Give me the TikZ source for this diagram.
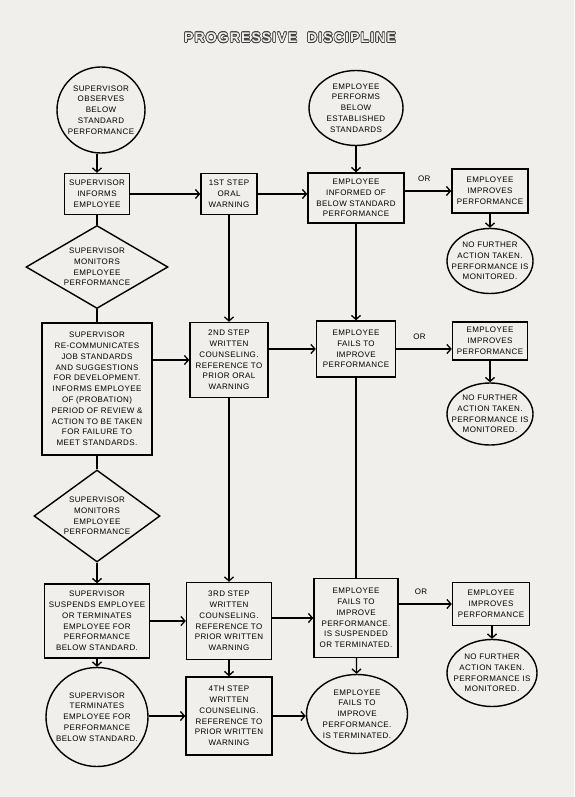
\documentclass[tikz,border=0pt]{standalone}
\usepackage{fontspec}
\usepackage{contour}
\usetikzlibrary{shapes.geometric,arrows.meta}
\newfontfamily\chartfont{Liberation Sans}[LetterSpace=5]
\newfontfamily\headfont{Liberation Sans}[LetterSpace=8]
\definecolor{paper}{RGB}{240,239,235}
\contourlength{0.6pt}

\begin{document}
\begin{tikzpicture}[x=1pt, y=-1pt,
    every node/.style={font=\chartfont\fontsize{8}{10.8}\selectfont, align=center, inner sep=0pt},
    box/.style={draw, rectangle, line width=1.4pt},
    bubble/.style={draw, ellipse, line width=1.4pt, inner sep=-8pt},
    check/.style={draw, diamond, line width=1.4pt},
    flow/.style={line width=1.3pt},
    go/.style={flow, -{Straight Barb[length=4pt,width=9pt]}}]

    % Page and title
    \fill[paper] (0,0) rectangle (574,797);
    \useasboundingbox (0,0) rectangle (574,797);
    \node (title) at (290,38) {\headfont\bfseries\fontsize{14}{16}\selectfont\color{paper}\contour{black!75}{PROGRESSIVE\ \ DISCIPLINE}};

    % Supervisor column
    \node[bubble, minimum width=88pt, minimum height=86pt] (observe) at (101,110) {SUPERVISOR\\OBSERVES\\BELOW\\STANDARD\\PERFORMANCE};
    \node[box, minimum width=65pt, minimum height=41pt] (inform) at (97,194) {SUPERVISOR\\INFORMS\\EMPLOYEE};
    \node[check, aspect=1.75, minimum width=142pt, minimum height=83pt] (monitor1) at (97,267) {SUPERVISOR\\MONITORS\\EMPLOYEE\\PERFORMANCE};
    \node[box, minimum width=110pt, minimum height=132pt] (recommunicate) at (97,389) {SUPERVISOR\\RE-COMMUNICATES\\JOB STANDARDS\\AND SUGGESTIONS\\FOR DEVELOPMENT.\\INFORMS EMPLOYEE\\OF (PROBATION)\\PERIOD OF REVIEW \&\\ACTION TO BE TAKEN\\FOR FAILURE TO\\MEET STANDARDS.};
    \node[check, aspect=1.4, minimum width=126pt, minimum height=92pt] (monitor2) at (97,516) {SUPERVISOR\\MONITORS\\EMPLOYEE\\PERFORMANCE};
    \node[box, minimum width=105pt, minimum height=74pt] (suspend) at (97,621) {SUPERVISOR\\SUSPENDS EMPLOYEE\\OR TERMINATES\\EMPLOYEE FOR\\PERFORMANCE\\BELOW STANDARD.};
    \node[bubble, minimum width=102pt, minimum height=99pt] (terminate) at (97,717) {SUPERVISOR\\TERMINATES\\EMPLOYEE FOR\\PERFORMANCE\\BELOW STANDARD.};

    % Warning steps
    \node[box, minimum width=56pt, minimum height=41pt] (step1) at (229,194) {1ST STEP\\ORAL\\WARNING};
    \node[box, minimum width=78pt, minimum height=75pt] (step2) at (229,360) {2ND STEP\\WRITTEN\\COUNSELING.\\REFERENCE TO\\PRIOR ORAL\\WARNING};
    \node[box, minimum width=85pt, minimum height=77pt] (step3) at (229,621) {3RD STEP\\WRITTEN\\COUNSELING.\\REFERENCE TO\\PRIOR WRITTEN\\WARNING};
    \node[box, minimum width=86pt, minimum height=78pt] (step4) at (229,716) {4TH STEP\\WRITTEN\\COUNSELING.\\REFERENCE TO\\PRIOR WRITTEN\\WARNING};

    % Employee column
    \node[bubble, minimum width=94pt, minimum height=75pt] (performs) at (356,108) {EMPLOYEE\\PERFORMS\\BELOW\\ESTABLISHED\\STANDARDS};
    \node[box, minimum width=96pt, minimum height=50pt] (informed) at (356,198) {EMPLOYEE\\INFORMED OF\\BELOW STANDARD\\PERFORMANCE};
    \node[box, minimum width=79pt, minimum height=56pt] (fails) at (356,349) {EMPLOYEE\\FAILS TO\\IMPROVE\\PERFORMANCE};
    \node[box, minimum width=84pt, minimum height=79pt] (failsusp) at (356,618) {EMPLOYEE\\FAILS TO\\IMPROVE\\PERFORMANCE.\\IS SUSPENDED\\OR TERMINATED.};
    \node[bubble, minimum width=101pt, minimum height=79pt] (failterm) at (357,714) {EMPLOYEE\\FAILS TO\\IMPROVE\\PERFORMANCE.\\IS TERMINATED.};

    % Improvement outcomes
    \node[box, minimum width=76pt, minimum height=44pt] (improves1) at (490,191) {EMPLOYEE\\IMPROVES\\PERFORMANCE};
    \node[bubble, minimum width=85pt, minimum height=65pt] (nofurther1) at (490,261) {NO FURTHER\\ACTION TAKEN.\\PERFORMANCE IS\\MONITORED.};
    \node[box, minimum width=75pt, minimum height=38pt] (improves2) at (490,341) {EMPLOYEE\\IMPROVES\\PERFORMANCE};
    \node[bubble, minimum width=79pt, minimum height=62pt] (nofurther2) at (490,414) {NO FURTHER\\ACTION TAKEN.\\PERFORMANCE IS\\MONITORED.};
    \node[box, minimum width=77pt, minimum height=43pt] (improves3) at (491,604) {EMPLOYEE\\IMPROVES\\PERFORMANCE};
    \node[bubble, minimum width=90pt, minimum height=67pt] (nofurther3) at (492,673) {NO FURTHER\\ACTION TAKEN.\\PERFORMANCE IS\\MONITORED.};

    % Supervisor connectors
    \draw[go] (observe.south -| inform) -- (inform);
    \draw[flow] (inform) -- (monitor1);
    \draw[flow] (monitor1) -- (recommunicate);
    \draw[flow] (recommunicate) -- (monitor2);
    \draw[go] (monitor2) -- (suspend);
    \draw[go] (suspend) -- (terminate);

    % Across to the steps
    \draw[go] (inform) -- (step1);
    \draw[go] (recommunicate.east |- step2) -- (step2);
    \draw[go] (suspend) -- (step3);
    \draw[go] (terminate.east |- step4) -- (step4);

    % Down the steps
    \draw[go] (step1) -- (step2);
    \draw[go] (step2) -- (step3);
    \draw[go] (step3) -- (step4);

    % Across to the employee
    \draw[go] (step1) -- (step1 -| informed.west);
    \draw[go] (step2.east |- fails) -- (fails);
    \draw[go] (step3.east |- failsusp) -- (failsusp);
    \draw[go] (step4) -- (step4 -| failterm.west);

    % Employee connectors
    \draw[go] (performs) -- (informed);
    \draw[go] (informed) -- (fails);
    \draw[flow] (fails) -- (failsusp);
    \draw[go] (failsusp) -- (failterm);

    % The "or" branches
    \draw[go] (informed.east |- improves1) -- node[pos=0.42, above=9pt] (or1) {OR} (improves1);
    \draw[go] (fails) -- node[pos=0.42, above=9pt] (or2) {OR} (fails -| improves2.west);
    \draw[go] (failsusp.east |- improves3) -- node[pos=0.42, above=9pt] (or3) {OR} (improves3);
    \draw[go] (improves1) -- (nofurther1);
    \draw[go] (improves2) -- (nofurther2);
    \draw[go] (improves3.south -| nofurther3) -- (nofurther3);

\end{tikzpicture}
\end{document}
